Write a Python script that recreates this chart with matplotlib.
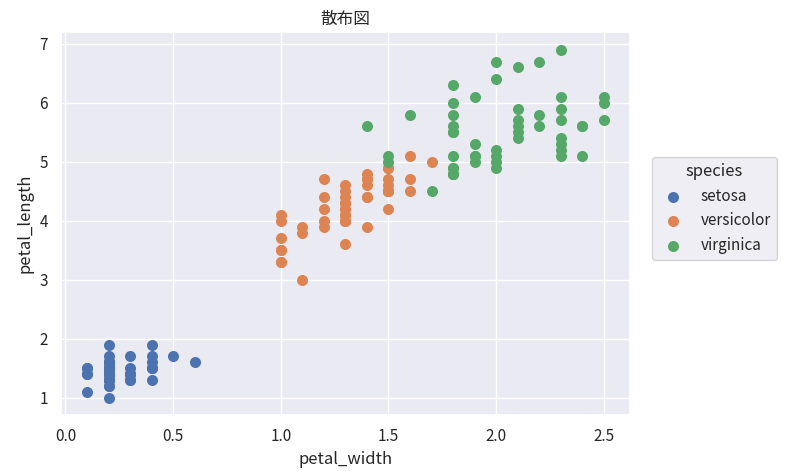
import matplotlib
matplotlib.use("Agg")
import matplotlib.pyplot as plt
import seaborn as sns

# iris: petal_width / petal_length
setosa_w = [0.2, 0.2, 0.2, 0.2, 0.2, 0.4, 0.3, 0.2, 0.2, 0.1, 0.2, 0.2, 0.1, 0.1, 0.2, 0.4, 0.4, 0.3, 0.3, 0.3,
            0.2, 0.4, 0.2, 0.5, 0.2, 0.2, 0.4, 0.2, 0.2, 0.2, 0.2, 0.4, 0.1, 0.2, 0.2, 0.2, 0.2, 0.1, 0.2, 0.2,
            0.3, 0.3, 0.2, 0.6, 0.4, 0.3, 0.2, 0.2, 0.2, 0.2]
setosa_l = [1.4, 1.4, 1.3, 1.5, 1.4, 1.7, 1.4, 1.5, 1.4, 1.5, 1.5, 1.6, 1.4, 1.1, 1.2, 1.5, 1.3, 1.4, 1.7, 1.5,
            1.7, 1.5, 1.0, 1.7, 1.9, 1.6, 1.6, 1.5, 1.4, 1.6, 1.6, 1.5, 1.5, 1.4, 1.5, 1.2, 1.3, 1.4, 1.3, 1.5,
            1.3, 1.3, 1.3, 1.6, 1.9, 1.4, 1.6, 1.4, 1.5, 1.4]
versicolor_w = [1.4, 1.5, 1.5, 1.3, 1.5, 1.3, 1.6, 1.0, 1.3, 1.4, 1.0, 1.5, 1.0, 1.4, 1.3, 1.4, 1.5, 1.0, 1.5, 1.1,
                1.8, 1.3, 1.5, 1.2, 1.3, 1.4, 1.4, 1.7, 1.5, 1.0, 1.1, 1.0, 1.2, 1.6, 1.5, 1.6, 1.5, 1.3, 1.3, 1.3,
                1.2, 1.4, 1.2, 1.0, 1.3, 1.2, 1.3, 1.3, 1.1, 1.3]
versicolor_l = [4.7, 4.5, 4.9, 4.0, 4.6, 4.5, 4.7, 3.3, 4.6, 3.9, 3.5, 4.2, 4.0, 4.7, 3.6, 4.4, 4.5, 4.1, 4.5, 3.9,
                4.8, 4.0, 4.9, 4.7, 4.3, 4.4, 4.8, 5.0, 4.5, 3.5, 3.8, 3.7, 3.9, 5.1, 4.5, 4.5, 4.7, 4.4, 4.1, 4.0,
                4.4, 4.6, 4.0, 3.3, 4.2, 4.2, 4.2, 4.3, 3.0, 4.1]
virginica_w = [2.5, 1.9, 2.1, 1.8, 2.2, 2.1, 1.7, 1.8, 1.8, 2.5, 2.0, 1.9, 2.1, 2.0, 2.4, 2.3, 1.8, 2.2, 2.3, 1.5,
               2.3, 2.0, 2.0, 1.8, 2.1, 1.8, 1.8, 1.8, 2.1, 1.6, 1.9, 2.0, 2.2, 1.5, 1.4, 2.3, 2.4, 1.8, 1.8, 2.1,
               2.4, 2.3, 1.9, 2.3, 2.5, 2.3, 1.9, 2.0, 2.3, 1.8]
virginica_l = [6.0, 5.1, 5.9, 5.6, 5.8, 6.6, 4.5, 6.3, 5.8, 6.1, 5.1, 5.3, 5.5, 5.0, 5.1, 5.3, 5.5, 6.7, 6.9, 5.0,
               5.7, 4.9, 6.7, 4.9, 5.7, 6.0, 4.8, 4.9, 5.6, 5.8, 6.1, 6.4, 5.6, 5.1, 5.6, 6.1, 5.6, 5.5, 4.8, 5.4,
               5.6, 5.1, 5.1, 5.9, 5.7, 5.2, 5.0, 5.2, 5.4, 5.1]

species = ['setosa', 'versicolor', 'virginica']
widths = [setosa_w, versicolor_w, virginica_w]
lengths = [setosa_l, versicolor_l, virginica_l]

sns.set_theme(style='darkgrid')
plt.rcParams['font.family'] = ['Noto Sans CJK JP', 'DejaVu Sans']
colors = sns.color_palette('deep', 3)

fig = plt.figure(figsize=(7.94, 4.75), dpi=100)
ax = fig.add_axes([0.077, 0.126, 0.716, 0.806])

for name, w, l, c in zip(species, widths, lengths, colors):
    ax.scatter(w, l, color=c, label=name, s=48)

ax.set_title('散布図')
ax.set_xlabel('petal_width')
ax.set_ylabel('petal_length')

ax.legend(title='species', loc='upper left', bbox_to_anchor=(652 / 794, 1 - 157 / 475),
          bbox_transform=fig.transFigure, borderaxespad=0)

fig.savefig('out.png', dpi=100)
